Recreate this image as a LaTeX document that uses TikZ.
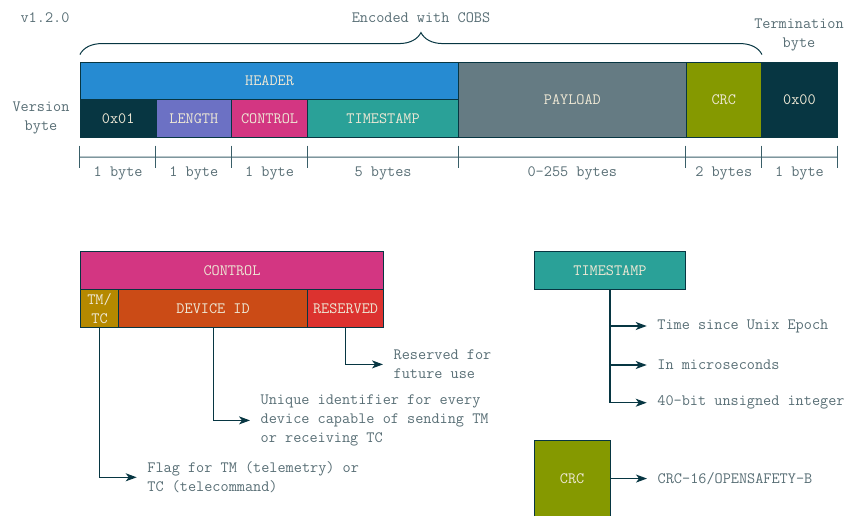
\documentclass[tikz,border=0pt]{standalone}
\usetikzlibrary{arrows.meta,decorations.pathreplacing}
\definecolor{sbase02}{HTML}{073642}
\definecolor{sbase01}{HTML}{586E75}
\definecolor{sbase00}{HTML}{657B83}
\definecolor{sbase2}{HTML}{EEE8D5}
\definecolor{syellow}{HTML}{B58900}
\definecolor{sorange}{HTML}{CB4B16}
\definecolor{sred}{HTML}{DC322F}
\definecolor{smagenta}{HTML}{D33682}
\definecolor{sviolet}{HTML}{6C71C4}
\definecolor{sblue}{HTML}{268BD2}
\definecolor{scyan}{HTML}{2AA198}
\definecolor{sgreen}{HTML}{859900}
\begin{document}
\begin{tikzpicture}[x=1pt,y=-1pt,
  every node/.style={font=\ttfamily\fontsize{15.8}{18.8}\selectfont},
  cell/.style={draw=sbase02, line width=0.8pt, text=sbase2, inner sep=0pt, minimum height=37.85pt, align=center},
  note/.style={text=sbase01, align=center, inner sep=0pt},
  side/.style={text=sbase01, align=left, anchor=west, inner xsep=10.5pt, inner ysep=0pt},
  dimline/.style={draw=sbase02!80, line width=0.9pt},
  conn/.style={draw=sbase02, line width=1.2pt, -{Stealth[length=11pt,width=8pt,inset=3pt]}},
  bracestyle/.style={draw=sbase02, line width=1pt, decorate, decoration={brace, amplitude=22pt}}
]
\useasboundingbox (0,0) rectangle (848,516);

% ---------- top frame ----------
\node[cell, fill=sblue, minimum width=378.5pt] (hdr) at (269.55,80.9) {HEADER};
\node[cell, fill=sbase02, minimum width=75.7pt] (v01) at (118.15,118.75) {0x01};
\node[cell, fill=sviolet, minimum width=75.7pt] (len) at (193.85,118.75) {LENGTH};
\node[cell, fill=smagenta, minimum width=75.7pt] (ctl) at (269.55,118.75) {CONTROL};
\node[cell, fill=scyan, minimum width=151.4pt] (tsm) at (383.1,118.75) {TIMESTAMP};
\node[cell, fill=sbase00, minimum width=227.1pt, minimum height=75.7pt] (pay) at (572.35,99.85) {PAYLOAD};
\node[cell, fill=sgreen, minimum width=75.7pt, minimum height=75.7pt] (crc) at (723.75,99.85) {CRC};
\node[cell, fill=sbase02, minimum width=75.7pt, minimum height=75.7pt] (v00) at (799.45,99.85) {0x00};

% dimension line
\foreach \n in {v01,len,ctl,tsm,pay,crc,v00}
  \draw[dimline] ([yshift=-7.5pt]\n.south west) -- ++(0,22);
\draw[dimline] ([yshift=-7.5pt]v00.south east) -- ++(0,22);
\draw[dimline] ([yshift=-19pt]v01.south west) -- ([yshift=-19pt]v00.south east);

\node[note] (d1) at ([yshift=-35pt]v01.south) {1 byte};
\node[note] (d2) at ([yshift=-35pt]len.south) {1 byte};
\node[note] (d3) at ([yshift=-35pt]ctl.south) {1 byte};
\node[note] (d4) at ([yshift=-35pt]tsm.south) {5 bytes};
\node[note] (d5) at ([yshift=-35pt]pay.south) {0-255 bytes};
\node[note] (d6) at ([yshift=-35pt]crc.south) {2 bytes};
\node[note] (d7) at ([yshift=-35pt]v00.south) {1 byte};

% brace
\draw[bracestyle] ([yshift=7pt]hdr.north west) -- ([yshift=7pt]crc.north east);
\node[note] (cobs) at (421,17.5) {Encoded with COBS};
\node[note] (ver) at (45,17.5) {v1.2.0};
\node[note] (verb) at (41,118) {Version\\byte};
\node[note] (term) at (799,35) {Termination\\byte};

% ---------- CONTROL detail ----------
\node[cell, fill=smagenta, minimum width=302.8pt] (cbox) at (232,270.6) {CONTROL};
\node[cell, fill=syellow, minimum width=37.85pt] (tmtc) at (99.5,308.45) {TM/\\TC};
\node[cell, fill=sorange, minimum width=189.25pt] (devid) at (213.1,308.45) {DEVICE ID};
\node[cell, fill=sred, minimum width=75.7pt] (resv) at (345.55,308.45) {RESERVED};

\node[side] (resvtxt) at (383,364.4) {Reserved for\\future use};
\node[side] (devtxt) at (250,420.4) {Unique identifier for every\\device capable of sending TM\\or receiving TC};
\node[side] (flagtxt) at (136.7,477.3) {Flag for TM (telemetry) or\\TC (telecommand)};

\draw[conn] (resv.south) |- (resvtxt.west);
\draw[conn] (devid.south) |- (devtxt.west);
\draw[conn] (tmtc.south) |- (flagtxt.west);

% ---------- TIMESTAMP detail ----------
\node[cell, fill=scyan, minimum width=151.4pt] (tsbox) at (610,270.4) {TIMESTAMP};
\node[side] (t1) at (646.7,326) {Time since Unix Epoch};
\node[side] (t2) at (646.7,365) {In microseconds};
\node[side] (t3) at (646.7,402.7) {40-bit unsigned integer};
\draw[conn] (tsbox.south) |- (t1.west);
\draw[conn] (tsbox.south) |- (t2.west);
\draw[conn] (tsbox.south) |- (t3.west);

% ---------- CRC detail ----------
\node[cell, fill=sgreen, minimum width=75.7pt, minimum height=75.7pt] (crcbox) at (572.15,478.55) {CRC};
\node[side] (crctxt) at (647,478.55) {CRC-16/OPENSAFETY-B};
\draw[conn] (crcbox.east) -- (crctxt.west);
\end{tikzpicture}
\end{document}
